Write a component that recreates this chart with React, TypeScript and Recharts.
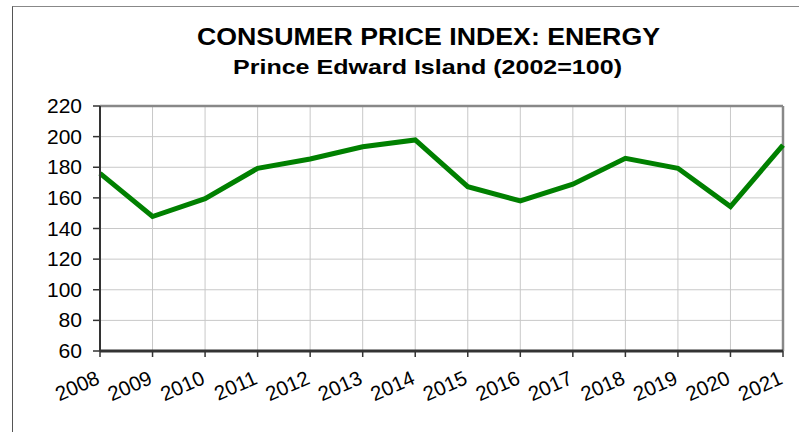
import React from "react";
import {
  CartesianGrid,
  Line,
  LineChart,
  ReferenceLine,
  XAxis,
  YAxis,
} from "recharts";

const years = [
  "2008", "2009", "2010", "2011", "2012", "2013", "2014",
  "2015", "2016", "2017", "2018", "2019", "2020", "2021",
];
const energyIndex = [
  176, 147.8, 159.5, 179.3, 185.4, 193.4, 197.8,
  167.3, 158, 168.9, 185.8, 179.3, 154.3, 194.5,
];
const yTicks = [60, 80, 100, 120, 140, 160, 180, 200, 220];

const title = "CONSUMER PRICE INDEX: ENERGY";
const subtitle = "Prince Edward Island (2002=100)";

const data = years.map((year, i) => ({ year, value: energyIndex[i] }));

const FONT = "'Liberation Sans', Arial, sans-serif";

function YearTick(props: any) {
  const { x, y, payload } = props;
  return (
    <text
      x={0}
      y={0}
      transform={`translate(${x + 1},${y + 24}) rotate(-24)`}
      textAnchor="end"
      fontFamily={FONT}
      fontSize={20.5}
      fill="#000"
    >
      {payload.value}
    </text>
  );
}

function ValueTick(props: any) {
  const { x, y, payload } = props;
  return (
    <text
      x={x}
      y={y}
      dy={7}
      textAnchor="end"
      fontFamily={FONT}
      fontSize={19.5}
      textLength={35}
      lengthAdjust="spacingAndGlyphs"
      fill="#000"
    >
      {payload.value}
    </text>
  );
}

function ValueTickAuto(props: any) {
  const { payload } = props;
  const digits = String(payload.value).length;
  // glyphs in the reference are stretched a bit wider than normal Arial
  return digits === 3 ? <ValueTick {...props} /> : (
    <text
      x={props.x}
      y={props.y}
      dy={7}
      textAnchor="end"
      fontFamily={FONT}
      fontSize={19.5}
      textLength={23.5}
      lengthAdjust="spacingAndGlyphs"
      fill="#000"
    >
      {payload.value}
    </text>
  );
}

export default function App() {
  return (
    <div
      style={{
        position: "fixed",
        left: 0,
        top: 0,
        width: 799,
        height: 432,
        overflow: "hidden",
        background: "#fff",
      }}
    >
      {/* outer chart frame, runs off the right and bottom edges */}
      <div
        style={{
          position: "absolute",
          left: 12,
          top: 6,
          width: 820,
          height: 460,
          borderLeft: "1.5px solid #555",
          borderTop: "1.5px solid #888",
        }}
      />
      <svg
        width={799}
        height={90}
        style={{ position: "absolute", left: 0, top: 0 }}
      >
        <text
          x={428.5}
          y={44.5}
          textAnchor="middle"
          fontFamily={FONT}
          fontWeight="bold"
          fontSize={24.5}
          textLength={463}
          lengthAdjust="spacingAndGlyphs"
          fill="#000"
        >
          {title}
        </text>
        <text
          x={427.5}
          y={73.5}
          textAnchor="middle"
          fontFamily={FONT}
          fontWeight="bold"
          fontSize={21}
          textLength={389}
          lengthAdjust="spacingAndGlyphs"
          fill="#000"
        >
          {subtitle}
        </text>
      </svg>
      <div style={{ position: "absolute", left: 0, top: 0 }}>
        <LineChart
          width={799}
          height={432}
          data={data}
          margin={{ top: 106, right: 16, left: 0, bottom: 0 }}
        >
          <CartesianGrid stroke="#c8c8c8" strokeWidth={1} />
          <XAxis
            dataKey="year"
            height={81}
            interval={0}
            tick={<YearTick />}
            tickSize={6}
            axisLine={{ stroke: "#333", strokeWidth: 3 }}
            tickLine={{ stroke: "#333", strokeWidth: 1.5 }}
          />
          <YAxis
            width={100}
            domain={[60, 220]}
            ticks={yTicks}
            interval={0}
            tickSize={7}
            tickMargin={11}
            axisLine={{ stroke: "#333", strokeWidth: 2 }}
            tickLine={{ stroke: "#333", strokeWidth: 1.5 }}
            tick={<ValueTickAuto />}
          />
          <ReferenceLine y={220} stroke="#888" strokeWidth={2.5} />
          <ReferenceLine x="2021" stroke="#888" strokeWidth={2.5} />
          <Line
            type="linear"
            dataKey="value"
            stroke="#008000"
            strokeWidth={5}
            dot={false}
            activeDot={false}
            isAnimationActive={false}
          />
        </LineChart>
      </div>
    </div>
  );
}
